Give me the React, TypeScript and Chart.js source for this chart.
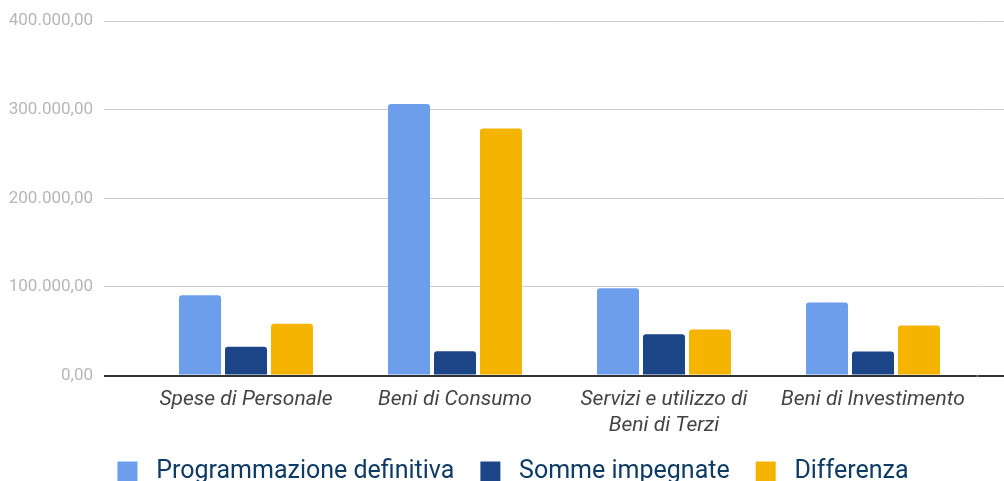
import React, { useEffect, useRef } from "react";
import { Chart, registerables } from "chart.js";

Chart.register(...registerables);

const categories: (string | string[])[] = [
  "Spese di Personale",
  "Beni di Consumo",
  ["Servizi e utilizzo di", "Beni di Terzi"],
  "Beni di Investimento",
];
const programmazioneDefinitiva = [90500, 306500, 98500, 82500];
const sommeImpegnate = [32500, 27500, 46500, 27000];
const differenza = [58500, 279000, 52000, 56500];
const yTickValues = [0, 100000, 200000, 300000, 400000];
const yTickLabels = ["0,00", "100.000,00", "200.000,00", "300.000,00", "400.000,00"];

const legendShift = {
  id: "legendShift",
  afterLayout(c: any) {
    if (c.legend) c.legend.left += 14;
  },
};

export default function App() {
  const ref = useRef<HTMLCanvasElement>(null);
  useEffect(() => {
    if (!ref.current) return;
    const gridColor = (ctx: any) => (ctx.tick && ctx.tick.value === 0 ? "#333333" : "#cccccc");
    const gridWidth = (ctx: any) => (ctx.tick && ctx.tick.value === 0 ? 2 : 1);
    const bar = { borderRadius: { topLeft: 3, topRight: 3 }, borderSkipped: "bottom" as const };
    const chart = new Chart(ref.current, {
      type: "bar",
      data: {
        labels: categories,
        datasets: [
          { label: "Programmazione definitiva", data: programmazioneDefinitiva, backgroundColor: "#6d9eeb", ...bar },
          { label: "Somme impegnate", data: sommeImpegnate, backgroundColor: "#1c4587", ...bar },
          { label: "Differenza", data: differenza, backgroundColor: "#f4b400", ...bar },
        ],
      },
      plugins: [legendShift],
      options: {
        responsive: false,
        animation: false,
        categoryPercentage: 0.66,
        barPercentage: 0.913,
        layout: { padding: { top: 17, left: 8, right: 0, bottom: 0 } },
        plugins: {
          tooltip: { enabled: false },
          legend: {
            position: "bottom",
            labels: {
              boxWidth: 20,
              boxHeight: 20,
              padding: 26,
              color: "#0d3b66",
              font: { family: "Roboto", size: 25 },
              generateLabels: (c: any) =>
                Chart.defaults.plugins.legend.labels
                  .generateLabels(c)
                  .map((l: any) => ({ ...l, text: " " + l.text })),
            },
          },
        },
        scales: {
          x: {
            grid: { display: false },
            border: { display: false },
            afterFit: (axis: any) => {
              axis.height -= 9;
            },
            ticks: {
              color: "#444444",
              font: { family: "Roboto", size: 21, style: "italic", lineHeight: 1.25 },
              maxRotation: 0,
              autoSkip: false,
              padding: 3,
            },
          },
          y: {
            min: 0,
            max: 400000,
            afterBuildTicks: (axis: any) => {
              axis.ticks = yTickValues.map((v) => ({ value: v }));
            },
            afterFit: (axis: any) => {
              axis.width = 133.5;
            },
            border: { display: false },
            grid: { color: gridColor, lineWidth: gridWidth, tickLength: 37.5 },
            ticks: {
              color: "#b7b7b7",
              font: { family: "Roboto", size: 17 },
              padding: 11,
              callback: (v: any) => yTickLabels[yTickValues.indexOf(Number(v))] ?? "",
            },
          },
          yRight: {
            position: "right",
            min: 0,
            max: 400000,
            afterBuildTicks: (axis: any) => {
              axis.ticks = yTickValues.map((v) => ({ value: v }));
            },
            afterFit: (axis: any) => {
              axis.width = 26.5;
            },
            border: { display: false },
            grid: { drawOnChartArea: false, drawTicks: true, tickLength: 26.5, color: gridColor, lineWidth: gridWidth },
            ticks: { display: false },
          },
        },
      },
    });
    return () => chart.destroy();
  }, []);
  return (
    <div style={{ position: "fixed", left: 0, top: 0, width: 1004, height: 481, overflow: "hidden", background: "#fff" }}>
      <canvas ref={ref} width={1004} height={494} style={{ display: "block" }} />
    </div>
  );
}
